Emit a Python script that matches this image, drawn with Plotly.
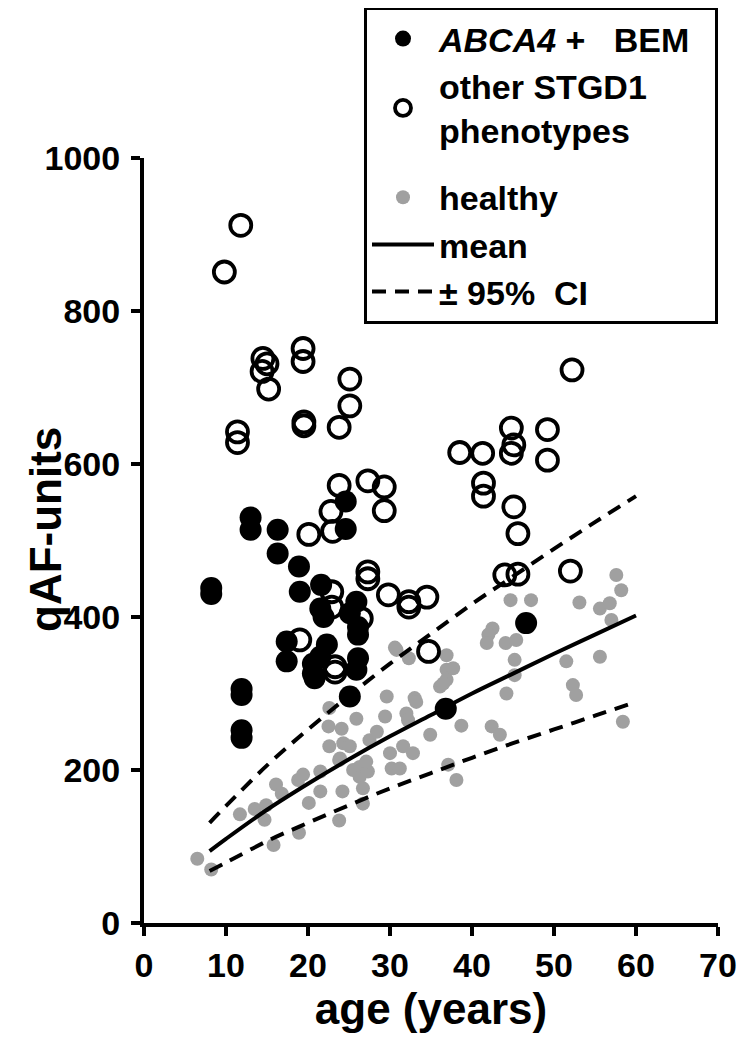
import plotly.graph_objects as go

# ABCA4 + BEM (filled black)
abca4_age = [8.2, 8.2, 11.9, 11.9, 11.9, 11.9, 13.0, 13.0, 16.3, 16.3, 18.9, 19.0,
             21.6, 21.5, 21.9, 24.6, 24.6, 25.9, 25.1, 26.1, 26.1, 17.4, 17.4, 22.3,
             21.5, 20.6, 20.8, 26.1, 25.9, 25.1, 36.8, 46.6, 20.6]
abca4_qaf = [438, 430, 306, 298, 252, 242, 530, 514, 514, 483, 466, 433,
             442, 411, 400, 551, 515, 420, 405, 387, 377, 368, 342, 364,
             348, 326, 320, 346, 331, 296, 280, 392, 339]

# other STGD1 phenotypes (open circles)
other_age = [9.8, 11.8, 11.4, 11.4, 14.5, 15.0, 14.4, 15.2, 19.4, 19.4, 25.1, 25.1,
             23.8, 19.5, 19.5, 23.8, 27.3, 29.3, 29.3, 22.8, 20.1, 23.0, 27.3, 27.3,
             29.8, 32.3, 32.3, 34.5, 22.9, 22.9, 26.5, 19.0, 23.3, 23.3, 34.7, 38.5,
             41.3, 44.8, 45.1, 44.8, 49.2, 49.2, 41.4, 41.4, 45.1, 45.6, 44.0, 45.6,
             52.0, 52.2]
other_qaf = [851, 912, 642, 628, 738, 731, 721, 698, 751, 734, 711, 676,
             648, 655, 650, 572, 578, 570, 539, 538, 508, 512, 459, 450,
             429, 420, 413, 426, 433, 413, 398, 370, 335, 328, 355, 615,
             614, 614, 625, 647, 645, 605, 575, 558, 544, 509, 455, 456,
             460, 723]

# healthy (gray)
healthy_age = [6.5, 8.2, 11.7, 13.5, 14.9, 14.7, 15.8, 16.1, 16.8, 18.8, 19.4, 18.9,
               20.1, 21.5, 21.5, 23.8, 24.2, 22.6, 23.8, 22.6, 24.1, 24.3, 25.1, 25.9,
               25.5, 26.3, 26.3, 26.7, 26.7, 27.5, 27.3, 29.6, 29.4, 30.0, 30.2, 31.2,
               32.0, 33.0, 31.6, 32.8, 34.9, 36.1, 32.3, 30.8, 22.5, 33.2, 32.2, 28.4,
               23.9, 27.1, 37.1, 36.9, 36.9, 36.9, 37.7, 36.5, 38.7, 42.4, 43.4, 44.2,
               45.2, 45.2, 51.5, 52.3, 52.7, 55.6, 58.4, 38.1, 57.6, 58.2, 53.1, 55.6,
               56.8, 57.0, 44.7, 47.2, 42.5, 42.0, 41.8, 44.1, 45.4, 30.6]
healthy_qaf = [84, 70, 142, 149, 154, 135, 102, 181, 169, 187, 194, 118,
               157, 172, 198, 134, 172, 231, 213, 281, 254, 235, 231, 267,
               200, 204, 191, 176, 156, 239, 198, 296, 270, 222, 202, 202,
               274, 294, 231, 222, 246, 309, 346, 357, 257, 289, 265, 250,
               215, 211, 207, 350, 331, 318, 333, 313, 258, 257, 246, 300,
               344, 324, 342, 311, 298, 348, 263, 187, 455, 435, 419, 411,
               418, 396, 422, 422, 385, 377, 366, 366, 370, 360]

# mean and 95% CI curves
curve_age = [8, 10, 15, 20, 25, 30, 35, 40, 45, 50, 55, 60]
mean_qaf = [94, 110, 148, 182, 214, 244, 272, 300, 326, 352, 377, 402]
upper_qaf = [131, 153, 206, 253, 297, 339, 378, 417, 453, 489, 524, 558]
lower_qaf = [68, 79, 107, 131, 154, 176, 196, 216, 235, 253, 271, 289]

x_ticks = [0, 10, 20, 30, 40, 50, 60, 70]
y_ticks = [0, 200, 400, 600, 800, 1000]

FONT = "Liberation Sans, Arial, sans-serif"

# page layout (the page body adds an 8 px offset)
PLOT_L, PLOT_T, PLOT_W, PLOT_H = 136, 150, 574, 765


def px_x(page_x):
    return (page_x - 144) / PLOT_W


def px_y(page_y):
    return (923 - page_y) / PLOT_H


fig = go.Figure()

fig.add_trace(go.Scatter(
    x=healthy_age, y=healthy_qaf, mode="markers", name="healthy",
    legendgroup="g2", legendrank=3,
    marker=dict(symbol="circle", size=14, color="#a0a0a0", line=dict(width=0))))
fig.add_trace(go.Scatter(
    x=curve_age, y=mean_qaf, mode="lines", name="mean",
    legendgroup="g2", legendrank=4,
    line=dict(color="black", width=4, shape="spline")))
fig.add_trace(go.Scatter(
    x=curve_age, y=upper_qaf, mode="lines", name="\u00b1 95%\u00a0\u00a0CI",
    legendgroup="g2", legendrank=5,
    line=dict(color="black", width=4, dash="14px,9px", shape="spline")))
fig.add_trace(go.Scatter(
    x=curve_age, y=lower_qaf, mode="lines", name="lower CI", showlegend=False,
    legendgroup="g2",
    line=dict(color="black", width=4, dash="14px,9px", shape="spline")))
fig.add_trace(go.Scatter(
    x=other_age, y=other_qaf, mode="markers", name="other STGD1<br>phenotypes",
    legendgroup="g1", legendrank=2,
    marker=dict(symbol="circle-open", size=21, color="black", line=dict(width=3.8, color="black"))))
fig.add_trace(go.Scatter(
    x=abca4_age, y=abca4_qaf, mode="markers",
    name="<i>ABCA4</i> +\u00a0\u00a0\u00a0BEM\u00a0\u00a0",
    legendgroup="g1", legendrank=1,
    marker=dict(symbol="circle", size=22, color="black", line=dict(width=0))))

axis_common = dict(
    showline=True, linecolor="black", linewidth=4, mirror=False,
    ticks="outside", ticklen=9, tickwidth=4, tickcolor="black",
    showgrid=False, zeroline=False,
    tickfont=dict(family=FONT, size=34, color="black", weight="bold"),
)

fig.update_xaxes(range=[0, 70], tickvals=x_ticks, ticktext=[str(v) for v in x_ticks],
                 ticklabelstandoff=0,
                 title=dict(text="age (years)", standoff=8,
                            font=dict(family=FONT, size=44, color="black", weight="bold")),
                 **axis_common)
fig.update_yaxes(range=[0, 1000], tickvals=y_ticks, ticktext=[str(v) for v in y_ticks],
                 ticklabelstandoff=4,
                 **axis_common)

fig.add_annotation(text="qAF-units", textangle=-90, xref="paper", yref="paper",
                   x=px_x(45), y=px_y(530), showarrow=False,
                   xanchor="center", yanchor="middle",
                   font=dict(family=FONT, size=44, color="black", weight="bold"))

fig.update_layout(
    width=752, height=1049,
    margin=dict(l=PLOT_L, r=752 - PLOT_L - PLOT_W, t=PLOT_T, b=1049 - PLOT_T - PLOT_H,
                autoexpand=False),
    paper_bgcolor="white", plot_bgcolor="white",
    showlegend=True,
    legend=dict(
        x=px_x(364), y=px_y(7), xanchor="left", yanchor="top",
        bordercolor="black", borderwidth=3, bgcolor="white",
        font=dict(family=FONT, size=34, color="black", weight="bold"),
        itemwidth=62, tracegroupgap=20, itemsizing="trace",
    ),
)

fig.write_html("out.html")
